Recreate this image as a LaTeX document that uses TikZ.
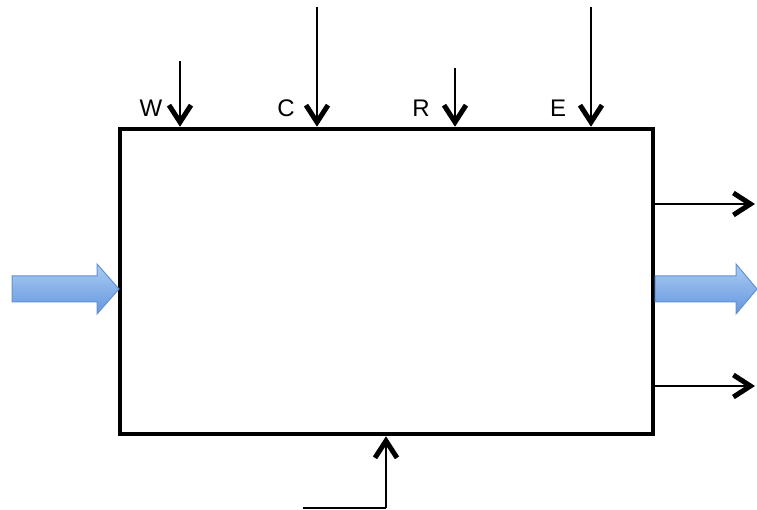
\documentclass[tikz,border=0pt]{standalone}
\usepackage{fontspec}
\setmainfont{Liberation Sans}
\usetikzlibrary{arrows.meta}
\definecolor{bluetop}{RGB}{170,204,244}
\definecolor{bluebot}{RGB}{100,150,222}
\definecolor{blueedge}{RGB}{100,145,210}
\begin{document}
\begin{tikzpicture}[x=1pt,y=-1pt,
  blk/.style={draw=black,line width=4.5pt,minimum width=533pt,minimum height=305pt,inner sep=0pt},
  flow/.style={draw=black,line width=2.2pt,-{Straight Barb[length=17pt,width=22pt,line width=5pt]}},
  plain/.style={draw=black,line width=2.2pt},
  lbl/.style={font=\fontsize{24}{28}\selectfont,inner sep=0pt},
  bluearr/.style={top color=bluetop,bottom color=bluebot,draw=blueedge,line width=1pt,line join=miter}]
\useasboundingbox (0,0) rectangle (757,510);
\node[blk] (box) at (386.5,281.5) {};
% top inputs
\coordinate (w0) at (180,61);
\coordinate (c0) at (317,7);
\coordinate (r0) at (455,68);
\coordinate (e0) at (591,7);
\draw[flow] (w0) -- (w0 |- box.north);
\draw[flow] (c0) -- (c0 |- box.north);
\draw[flow] (r0) -- (r0 |- box.north);
\draw[flow] (e0) -- (e0 |- box.north);
\node[lbl] (lw) at (151,108) {W};
\node[lbl] (lc) at (286,108) {C};
\node[lbl] (lr) at (421,108) {R};
\node[lbl] (le) at (558,108) {E};
% right outputs
\coordinate (o1) at (755,204);
\coordinate (o2) at (755,386);
\draw[flow] (o1 -| box.east) -- (o1);
\draw[flow] (o2 -| box.east) -- (o2);
% bottom input
\coordinate (b0) at (303,508);
\coordinate (b1) at (386,508);
\draw[plain] (b0) -- (b1);
\draw[flow] (b1) -- (b1 |- box.south);
% blue arrows
\path[bluearr] (12,276) -- (97,276) -- (97,264) -- (119,289) -- (97,314) -- (97,302) -- (12,302) -- cycle;
\path[bluearr] (655,276) -- (736,276) -- (736,264) -- (757,289) -- (736,314) -- (736,302) -- (655,302) -- cycle;
\end{tikzpicture}
\end{document}
